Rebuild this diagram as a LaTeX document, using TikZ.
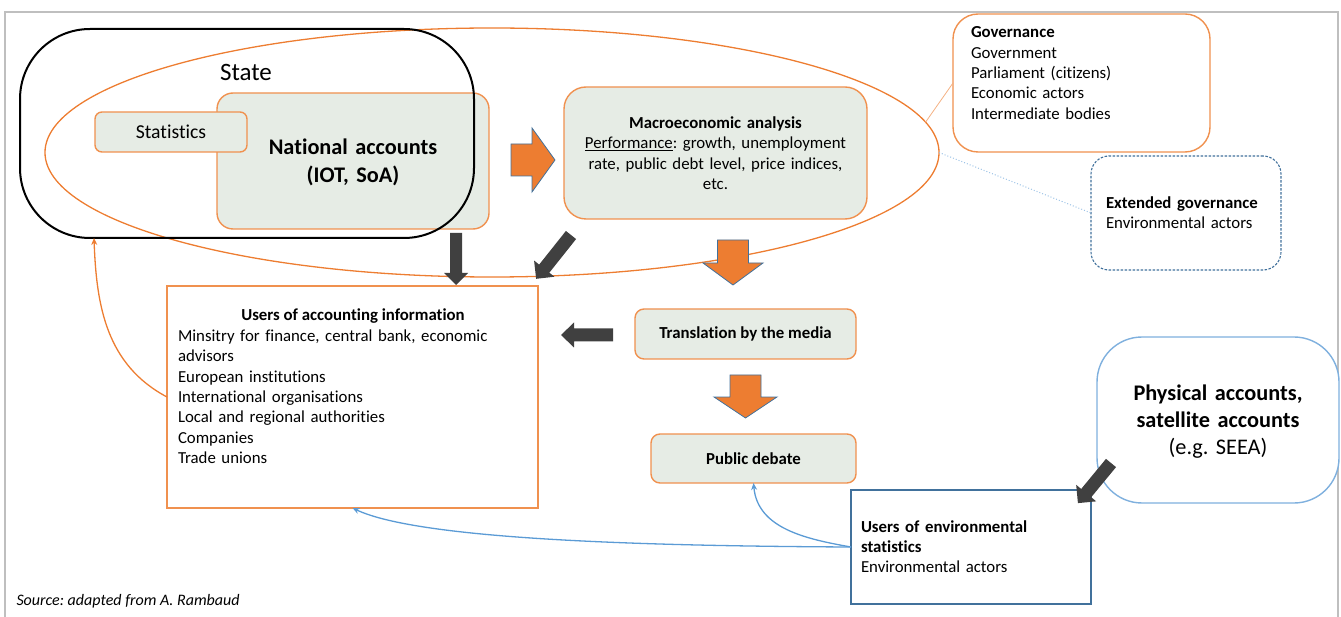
\documentclass[tikz,border=0pt]{standalone}
\usepackage{fontspec}
\setmainfont{Carlito}[Ligatures=NoCommon]
\frenchspacing
\usetikzlibrary{shapes.geometric,arrows.meta}
\definecolor{org}{HTML}{ED7D31}
\definecolor{orgline}{HTML}{F0914F}
\definecolor{orglight}{HTML}{F4B183}
\definecolor{boxfill}{HTML}{E6ECE5}
\definecolor{darkarr}{HTML}{404040}
\definecolor{steel}{HTML}{41719C}
\definecolor{lblue}{HTML}{5B9BD5}
\definecolor{pblue}{HTML}{7FB0DE}
\definecolor{dotblue}{HTML}{9DC3E6}
\definecolor{framegray}{HTML}{BFBFBF}
\tikzset{
  pics/barrow/.style args={#1/#2/#3/#4}{code={
    \path[pic actions] (0,-#2) -- (#1-#4,-#2) -- (#1-#4,-#3) -- (#1,0)
      -- (#1-#4,#3) -- (#1-#4,#2) -- (0,#2) -- cycle;}},
  obox/.style={draw=orgline, line width=1.4pt, fill=boxfill, inner sep=0pt, outer sep=0pt},
  wbox/.style={line width=1.4pt, fill=white, inner sep=0pt, outer sep=0pt},
  txt/.style={font=\fontsize{16.8}{20.3}\selectfont, inner sep=0pt, outer sep=0pt},
  btxt/.style={font=\fontsize{16.8}{20.3}\selectfont\bfseries, inner sep=0pt, outer sep=0pt},
  bigtxt/.style={font=\fontsize{22.3}{27.2}\selectfont, inner sep=0pt, outer sep=0pt},
  orgarrow/.style={fill=org, draw=steel, line width=0.8pt},
  darkarrow/.style={fill=darkarr},
  thinarr/.style={-{Stealth[length=7pt,width=6pt]}, line width=1.3pt},
}
\begin{document}
\begin{tikzpicture}[x=1pt,y=-1pt]
\useasboundingbox (0,0) rectangle (1341,617);
% frame
\draw[framegray, line width=2pt] (5,617) -- (5,12) -- (1338,12) -- (1338,617);

% big ellipse
\node[ellipse, draw=org, line width=1.3pt, minimum width=894, minimum height=249,
      inner sep=0pt, outer sep=0pt] (ell) at (492,152.5) {};

% governance boxes
\node[wbox, draw=orgline, rounded corners=25pt, minimum width=257, minimum height=138] (gov) at (1081.5,83) {};
\node[txt, anchor=base west, text width=230, align=left] (govtxt) at (971,38)
  {\textbf{Governance}\\Government\\Parliament (citizens)\\Economic actors\\Intermediate bodies};
\node[wbox, draw=steel, line width=1.1pt, dash pattern=on 2.5pt off 1.5pt, rounded corners=18pt,
      minimum width=190, minimum height=114] (ext) at (1186,213) {};
\node[txt, anchor=base west, text width=170, align=left] (exttxt) at (1106,208.5)
  {\textbf{Extended governance}\\Environmental actors};
\draw[orglight, line width=0.8pt] (ell.4) -- (gov.west);
\draw[dotblue, line width=1pt, dotted] (ell.east) -- (ext.west);

% national accounts and statistics
\node[obox, rounded corners=16pt, minimum width=272, minimum height=136] (na) at (353,161) {};
\node[bigtxt, font=\fontsize{22.3}{27.2}\selectfont\bfseries, anchor=base, text width=250, align=center] (natxt) at (353,155)
  {National accounts\\(IOT, SoA)};
\node[obox, rounded corners=7pt, minimum width=152, minimum height=40, font=\fontsize{19.7}{24}\selectfont] (stat) at (171,132) {Statistics};

% state
\node[draw=black, line width=2pt, rounded corners=70pt, minimum width=454, minimum height=209,
      inner sep=0pt, outer sep=0pt] (state) at (247,133.5) {};
\node[txt, font=\fontsize{25}{30}\selectfont, anchor=base] (statelbl) at (246,81) {State};

% macroeconomic analysis
\node[obox, rounded corners=22pt, minimum width=303, minimum height=132] (macro) at (715.5,153) {};
\node[txt, anchor=base, text width=300, align=center] (macrotxt) at (715.5,128.5)
  {\textbf{Macroeconomic analysis}\\\underline{Performance}: growth, unemployment\\rate, public debt level, price indices,\\etc.};

% users of accounting information
\node[wbox, draw=orgline, fill=none, minimum width=371, minimum height=222] (users) at (352.5,397) {};
\node[btxt, anchor=base] (userstitle) at (353,321) {Users of accounting information};
\node[txt, anchor=base west, text width=350, align=left] (userslist) at (178,341.5)
  {Minsitry for finance, central bank, economic\\advisors\\European institutions\\International organisations\\Local and regional authorities\\Companies\\Trade unions};

% media and debate
\node[obox, rounded corners=9pt, minimum width=221, minimum height=50, btxt] (trans) at (745.5,334) {Translation by the media};
\node[obox, rounded corners=9pt, minimum width=205, minimum height=49, btxt] (pd) at (753.5,458.5) {Public debate};

% physical accounts
\node[wbox, draw=pblue, rounded corners=45pt, minimum width=242, minimum height=166] (phys) at (1218,420) {};
\node[bigtxt, anchor=base, text width=230, align=center] (phystxt) at (1218,400.3)
  {\textbf{Physical accounts,}\\\textbf{satellite accounts}\\(e.g. SEEA)};

% users of environmental statistics
\node[wbox, draw=steel, line width=1.3pt, minimum width=240, minimum height=114] (envu) at (971,547) {};
\node[txt, anchor=base west, text width=220, align=left] (envtxt) at (861,532)
  {\textbf{Users of environmental}\\\textbf{statistics}\\Environmental actors};

% block arrows
\pic[orgarrow] at (511,160) {barrow=44/16/32/23};
\pic[orgarrow, rotate=-90] at (733,240) {barrow=45/15.5/30/22};
\pic[orgarrow, rotate=-90] at (745.5,375) {barrow=43/15.5/31.5/21};
\pic[darkarrow, rotate=-90] at (456,233) {barrow=52/6/12/12};
\pic[darkarrow, rotate=-128.5] at (571,235) {barrow=56/6.5/13/13};
\pic[darkarrow, rotate=180] at (613,335) {barrow=52/6.5/12.5/13};
\pic[darkarrow, rotate=-129.5] at (1111,463) {barrow=52/6.5/13/13};

% thin curved connectors
\draw[thinarr, org] (users.west) to[out=152, in=-88] ([xshift=74pt]state.south west);
\draw[thinarr, lblue] (envu.west) to[out=170, in=-85] (pd.south);
\draw[thinarr, lblue] (envu.west) .. controls (650,546) and (420,540) .. (users.south);

% source
\node[txt, font=\fontsize{16}{19}\selectfont\itshape, anchor=base west] (src) at (16.5,605)
  {Source: adapted from A. Rambaud};
\end{tikzpicture}
\end{document}
